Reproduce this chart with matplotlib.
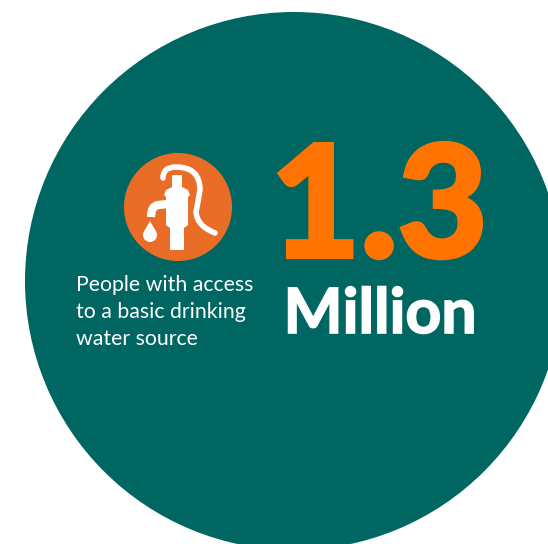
import matplotlib
matplotlib.use('Agg')
import matplotlib.pyplot as plt
import matplotlib.patheffects as pe
from matplotlib.patches import Circle, Polygon, PathPatch
from matplotlib.path import Path

big_number = "1.3"
unit = "Million"
caption_lines = ["People with access", "to a basic drinking", "water source"]

W, H = 548, 544
fig = plt.figure(figsize=(W / 100, H / 100), dpi=100)
ax = fig.add_axes([0, 0, 1, 1])
ax.set_xlim(0, W)
ax.set_ylim(H, 0)
ax.axis('off')

GREEN = '#006661'
ORANGE = '#FF7300'
ICON = '#E96D27'
w = 'white'

ax.add_patch(Circle((294, 281), 269, color=GREEN, lw=0))
ax.add_patch(Circle((178, 207), 54, color=ICON, lw=0))

# pump body
body = Path([(170, 250), (170, 228), (166, 225), (166, 197), (164, 195),
             (166, 190), (172, 187), (172, 175), (182, 175),
             (182, 187), (188, 190), (190, 195), (188, 197),
             (188, 225), (184, 228), (184, 250), (170, 250)])
ax.add_patch(PathPatch(body, fc=w, ec='none', lw=0))
# spout
spout = Path([(151, 217), (151, 206), (158, 205), (168, 204)],
             [Path.MOVETO, Path.CURVE3, Path.CURVE3, Path.LINETO])
ax.add_patch(PathPatch(spout, fc='none', ec=w, lw=6, capstyle='butt'))
# handle
handle = Path([(163, 178), (163, 167), (176, 167), (200, 167), (200, 190),
               (198, 202), (196, 212), (197, 226), (215, 233)],
              [Path.MOVETO, Path.CURVE3, Path.CURVE3, Path.CURVE3, Path.CURVE3,
               Path.CURVE3, Path.CURVE3, Path.CURVE3, Path.CURVE3])
ax.add_patch(PathPatch(handle, fc='none', ec=w, lw=4, capstyle='round'))
# drop
ax.add_patch(Circle((150, 235), 7, color=w, lw=0))
ax.add_patch(Polygon([(143.7, 232), (150, 221), (156.3, 232)], color=w, lw=0))

t = ax.text(379, 257, big_number, color=ORANGE, fontsize=112, fontweight='black', family='Lato', ha='center', va='baseline')
t.set_path_effects([pe.withStroke(linewidth=3, foreground=ORANGE, joinstyle='miter')])
m = ax.text(380, 333, unit, color=w, fontsize=45, fontweight='bold', family='Lato', ha='center', va='baseline')
m.set_path_effects([pe.withStroke(linewidth=1.2, foreground=w, joinstyle='miter')])
for y, line in zip([291, 318, 345], caption_lines):
    ax.text(76, y, line, color=w, fontsize=15.3, family='Lato', ha='left', va='baseline')

fig.savefig('out.png', dpi=100, facecolor='white')
